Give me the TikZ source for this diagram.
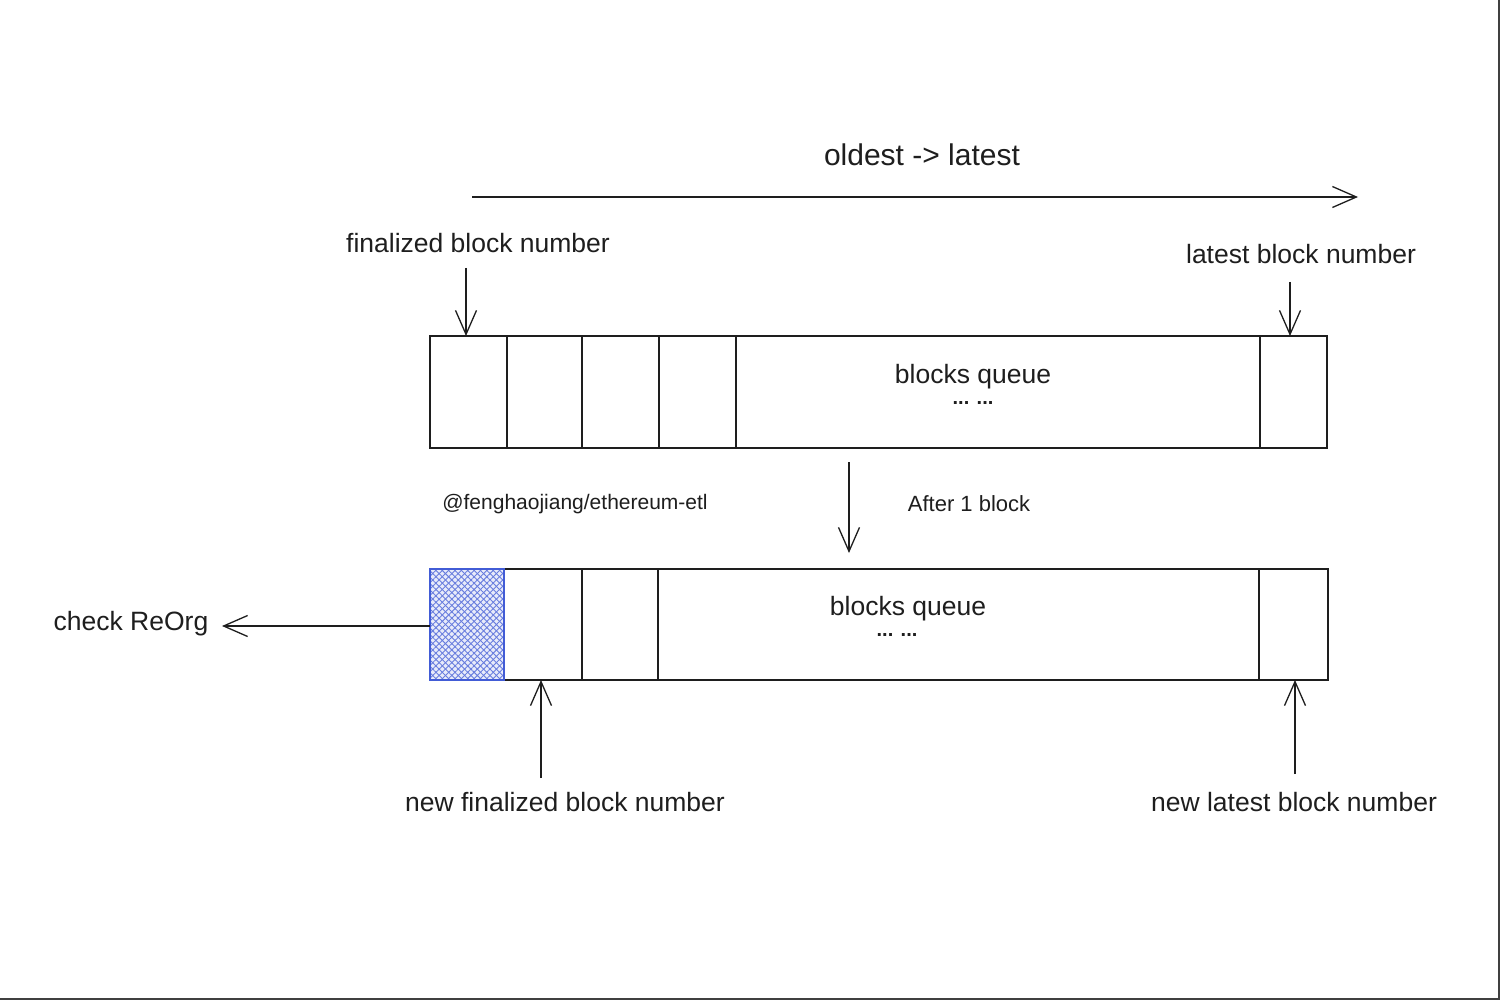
\documentclass[tikz,border=0pt]{standalone}
\usepackage{fontspec}
\setmainfont{Liberation Sans}
\usetikzlibrary{arrows.meta,patterns.meta}
\definecolor{ink}{RGB}{30,30,30}
\definecolor{hatch}{RGB}{66,92,214}
\begin{document}
\begin{tikzpicture}[x=1pt,y=-1pt,
  ln/.style={line width=1.3pt, draw=ink},
  arr/.style={ln, -{Straight Barb[length=24pt,width=21pt]}},
  lbl/.style={font=\fontsize{26.5}{31}\selectfont, text=ink, inner sep=0},
  small/.style={font=\fontsize{21}{25}\selectfont, text=ink, inner sep=0},
  dots/.style={font=\bfseries\fontsize{20}{24}\selectfont, text=ink, inner sep=0, text height=4pt, text depth=0pt},
  cell/.style={ln, rectangle, inner sep=0, outer sep=0, anchor=west}
]
\useasboundingbox (0,0) rectangle (1500,1000);
\fill[white] (0,0) rectangle (1500,1000);
\draw[line width=2pt, draw=black!75] (0,999) -- (1499,999) -- (1499,0);

% title
\node[lbl, font=\fontsize{30}{35}\selectfont] (title) at (922,155) {oldest -> latest};
\coordinate (ta) at (472,197);
\coordinate (tb) at (1358,197);
\draw[arr] (ta) -- (tb);

% top row
\begin{scope}[every node/.style={cell, minimum height=112pt}]
\node[minimum width=77pt]  (t1) at (430,392) {};
\node[minimum width=75pt]  (t2) at (507,392) {};
\node[minimum width=77pt]  (t3) at (582,392) {};
\node[minimum width=77pt]  (t4) at (659,392) {};
\node[minimum width=524pt] (t5) at (736,392) {};
\node[minimum width=67pt]  (t6) at (1260,392) {};
\end{scope}
\node[lbl] (q1) at (973,377) {blocks queue};
\node[dots] (d1) at (973,403) {... ...};

\node[lbl] (fin) at (478,243) {finalized block number};
\coordinate (fa) at (466,268);
\draw[arr] (fa) -- (fa |- t1.north);
\node[lbl] (lat) at (1301,254) {latest block number};
\coordinate (la) at (1290,282);
\draw[arr] (la) -- (la |- t6.north);

% transition
\coordinate (aa) at (849,462);
\coordinate (ab) at (849,553);
\draw[arr] (aa) -- (ab);
\node[small] (etl) at (575,504) {@fenghaojiang/ethereum-etl};
\node[small, font=\fontsize{22}{26}\selectfont] (after) at (969,504) {After 1 block};

% bottom row
\begin{scope}[every node/.style={cell, minimum height=111pt}]
\node[minimum width=74pt]  (b1) at (430,624.5) {};
\node[minimum width=78pt]  (b2) at (504,624.5) {};
\node[minimum width=76pt]  (b3) at (582,624.5) {};
\node[minimum width=601pt] (b4) at (658,624.5) {};
\node[minimum width=69pt]  (b5) at (1259,624.5) {};
\end{scope}
\fill[hatch!12] (b1.north west) rectangle (b1.south east);
\fill[pattern={Lines[angle=45,distance=4.5pt,line width=0.9pt]}, pattern color=hatch!80] (b1.north west) rectangle (b1.south east);
\fill[pattern={Lines[angle=-45,distance=4.5pt,line width=0.9pt]}, pattern color=hatch!80] (b1.north west) rectangle (b1.south east);
\draw[line width=1.6pt, draw=hatch] (b1.north west) rectangle (b1.south east);
\node[lbl] (q2) at (908,609) {blocks queue};
\node[dots] (d2) at (897,634) {... ...};

\node[lbl] (reorg) at (131,624) {check ReOrg};
\coordinate (ra) at (222,626);
\draw[arr] (b1.west |- ra) -- (ra);

\node[lbl] (nfin) at (565,802) {new finalized block number};
\coordinate (nfa) at (541,778);
\draw[arr] (nfa) -- (nfa |- b2.south);
\node[lbl] (nlat) at (1294,802) {new latest block number};
\coordinate (nla) at (1295,774);
\draw[arr] (nla) -- (nla |- b5.south);
\end{tikzpicture}
\end{document}
